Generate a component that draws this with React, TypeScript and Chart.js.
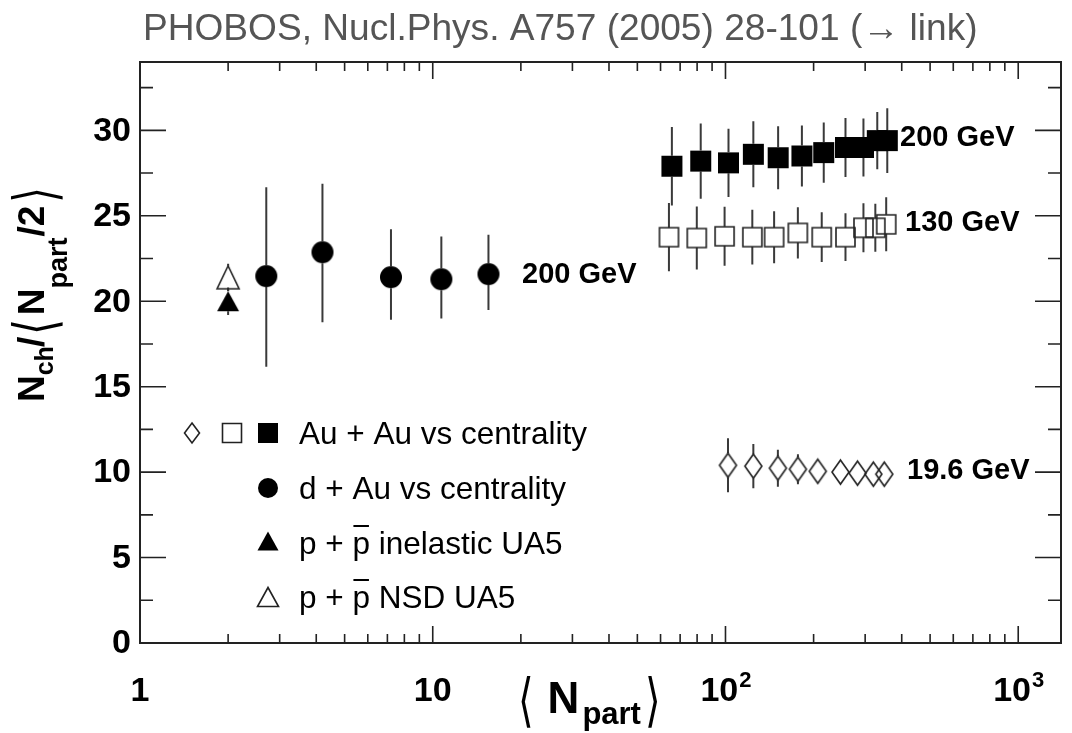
import React, { useEffect, useRef } from "react";
import { Chart, registerables } from "chart.js";
Chart.register(...registerables);

// ---------- data ----------
const auau200Npart = [65.6, 82.3, 102.4, 124.5, 151.3, 182.4, 216.6, 257, 296, 330, 357];
const auau200Val = [27.9, 28.2, 28.1, 28.6, 28.4, 28.5, 28.7, 29.0, 29.0, 29.4, 29.4];
const auau200Err = [2.3, 2.2, 2.0, 1.93, 1.84, 1.79, 1.76, 1.73, 1.7, 1.67, 1.9];

const auau130Npart = [64.1, 79.8, 99.3, 123.5, 146.6, 176.7, 213.2, 257, 296, 325, 354];
const auau130Val = [23.75, 23.7, 23.8, 23.75, 23.75, 24.0, 23.75, 23.75, 24.3, 24.3, 24.5];
const auau130Err = [2.0, 1.85, 1.73, 1.6, 1.52, 1.5, 1.46, 1.4, 1.43, 1.4, 1.58];

const auau19Npart = [102, 124.5, 151, 176.8, 206.7, 247, 282.5, 320, 348.7];
const auau19Val = [10.4, 10.35, 10.23, 10.17, 10.05, 10.0, 9.94, 9.88, 9.88];
const auau19Err = [1.58, 1.29, 1.08, 0.88, 0.7, 0.65, 0.6, 0.6, 0.6];

const dauNpart = [2.7, 4.2, 7.2, 10.7, 15.5];
const dauVal = [21.47, 22.87, 21.41, 21.29, 21.59];
const dauErrUp = [5.2, 4.0, 2.8, 2.5, 2.3];
const dauErrDown = [5.3, 4.1, 2.5, 2.3, 2.1];

const ua5InelNpart = [2];
const ua5InelVal = [20.0];
const ua5InelErr = [0.8];

const ua5NsdNpart = [2];
const ua5NsdVal = [21.4];
const ua5NsdErr = [0.8];

const yTickValues = [0, 5, 10, 15, 20, 25, 30];
const xTickValues = [1, 10, 100, 1000];
const xTickBase = ["1", "10", "10", "10"];
const xTickExp = ["", "", "2", "3"];

const titleText = "PHOBOS, Nucl.Phys. A757 (2005) 28-101 (\u2192 link)";
const legendRows = [
  "Au + Au vs centrality",
  "d + Au vs centrality",
  "inelastic UA5",
  "NSD UA5",
];
const energyLabels = ["200 GeV", "130 GeV", "19.6 GeV", "200 GeV"];

// ---------- helpers ----------
const SANS = '"Liberation Sans", Arial, Helvetica, sans-serif';
const BR = '"DejaVu Sans", sans-serif';
const INK = "#222";

type Kind = "square" | "circle" | "diamond" | "triangle";

function shapePath(g: CanvasRenderingContext2D, kind: Kind, cx: number, cy: number, w: number, h: number) {
  g.beginPath();
  if (kind === "square") g.rect(cx - w / 2, cy - h / 2, w, h);
  else if (kind === "circle") g.ellipse(cx, cy, w / 2, h / 2, 0, 0, Math.PI * 2);
  else if (kind === "diamond") {
    g.moveTo(cx, cy - h / 2);
    g.lineTo(cx + w / 2, cy);
    g.lineTo(cx, cy + h / 2);
    g.lineTo(cx - w / 2, cy);
    g.closePath();
  } else {
    g.moveTo(cx, cy - h / 2);
    g.lineTo(cx + w / 2, cy + h / 2);
    g.lineTo(cx - w / 2, cy + h / 2);
    g.closePath();
  }
}

function drawShape(g: CanvasRenderingContext2D, kind: Kind, cx: number, cy: number, w: number, h: number, filled: boolean) {
  shapePath(g, kind, cx, cy, w, h);
  if (filled) {
    g.fillStyle = "#000";
    g.fill();
  } else {
    g.strokeStyle = INK;
    g.lineWidth = 1.6;
    g.stroke();
  }
}

function makeMarker(kind: Kind, w: number, h: number, filled: boolean) {
  const c = document.createElement("canvas");
  const pad = 2;
  c.width = w + pad * 2;
  c.height = h + pad * 2;
  const g = c.getContext("2d")!;
  drawShape(g, kind, c.width / 2, c.height / 2, w, h, filled);
  return c;
}

type Run = { t: string; font: string; size: number; dy?: number; dx?: number; sy?: number };
function drawRuns(ctx: CanvasRenderingContext2D, runs: Run[], x0: number, y0: number) {
  let x = x0;
  ctx.textAlign = "left";
  ctx.textBaseline = "alphabetic";
  for (const r of runs) {
    ctx.font = r.font;
    x += r.dx || 0;
    const by = y0 + (r.dy || 0);
    if (r.sy && r.sy !== 1) {
      const c = 0.3 * r.size;
      ctx.save();
      ctx.translate(x, by - c);
      ctx.scale(1, r.sy);
      ctx.fillText(r.t, 0, c);
      ctx.restore();
    } else {
      ctx.fillText(r.t, x, by);
    }
    x += ctx.measureText(r.t).width;
  }
  return x;
}

export default function App() {
  const ref = useRef<HTMLCanvasElement>(null);

  useEffect(() => {
    const mk = {
      fsq: makeMarker("square", 21, 21, true),
      osq: makeMarker("square", 19, 19, false),
      dia: makeMarker("diamond", 17, 24, false),
      cir: makeMarker("circle", 22, 22, true),
      ftri: makeMarker("triangle", 22, 20, true),
      otri: makeMarker("triangle", 22, 23, false),
    };

    const series = [
      { label: "Au+Au 200 GeV", n: auau200Npart, v: auau200Val, up: auau200Err, dn: auau200Err, img: mk.fsq, half: 10.5 },
      { label: "Au+Au 130 GeV", n: auau130Npart, v: auau130Val, up: auau130Err, dn: auau130Err, img: mk.osq, half: 9.5 },
      { label: "Au+Au 19.6 GeV", n: auau19Npart, v: auau19Val, up: auau19Err, dn: auau19Err, img: mk.dia, half: 12 },
      { label: "d+Au 200 GeV", n: dauNpart, v: dauVal, up: dauErrUp, dn: dauErrDown, img: mk.cir, half: 11 },
      { label: "p+pbar inelastic UA5", n: ua5InelNpart, v: ua5InelVal, up: ua5InelErr, dn: ua5InelErr, img: mk.ftri, half: 10 },
      { label: "p+pbar NSD UA5", n: ua5NsdNpart, v: ua5NsdVal, up: ua5NsdErr, dn: ua5NsdErr, img: mk.otri, half: 11.5 },
    ];

    const errorBars = {
      id: "errorBars",
      beforeDatasetsDraw(chart: any) {
        const ctx = chart.ctx as CanvasRenderingContext2D;
        const xs = chart.scales.x;
        const ys = chart.scales.y;
        ctx.save();
        ctx.strokeStyle = "#3a3a3a";
        ctx.lineWidth = 2;
        for (const s of series) {
          s.n.forEach((n, i) => {
            const px = xs.getPixelForValue(n);
            const pc = ys.getPixelForValue(s.v[i]);
            const pt = ys.getPixelForValue(s.v[i] + s.up[i]);
            const pb = ys.getPixelForValue(s.v[i] - s.dn[i]);
            ctx.beginPath();
            if (pt < pc - s.half) {
              ctx.moveTo(px, pt);
              ctx.lineTo(px, pc - s.half);
            }
            if (pb > pc + s.half) {
              ctx.moveTo(px, pc + s.half);
              ctx.lineTo(px, pb);
            }
            ctx.stroke();
          });
        }
        ctx.restore();
      },
    };

    const frame = {
      id: "frameAndText",
      afterDraw(chart: any) {
        const ctx = chart.ctx as CanvasRenderingContext2D;
        const ca = chart.chartArea;
        const xs = chart.scales.x;
        const ys = chart.scales.y;
        ctx.save();

        // ticks
        ctx.strokeStyle = INK;
        ctx.lineWidth = 1.6;
        ctx.beginPath();
        for (const d of [1, 10, 100, 1000]) {
          for (let k = 1; k <= 9; k++) {
            const v = d * k;
            if (v < xs.min || v > xs.max) continue;
            const px = xs.getPixelForValue(v);
            const len = k === 1 ? 17 : 9;
            ctx.moveTo(px, ca.bottom);
            ctx.lineTo(px, ca.bottom - len);
            ctx.moveTo(px, ca.top);
            ctx.lineTo(px, ca.top + len);
          }
        }
        for (let v = 0; v <= ys.max + 1e-9; v += 2.5) {
          const py = ys.getPixelForValue(v);
          const len = Math.abs(v % 5) < 1e-9 ? 26 : 13;
          ctx.moveTo(ca.left, py);
          ctx.lineTo(ca.left + len, py);
          ctx.moveTo(ca.right, py);
          ctx.lineTo(ca.right - len, py);
        }
        ctx.stroke();

        // frame
        ctx.lineWidth = 2;
        ctx.strokeRect(ca.left, ca.top, ca.right - ca.left, ca.bottom - ca.top);

        ctx.fillStyle = "#000";
        // y tick labels
        ctx.font = `bold 34px ${SANS}`;
        ctx.textAlign = "right";
        ctx.textBaseline = "middle";
        for (const v of yTickValues) {
          ctx.fillText(String(v), ca.left - 9, ys.getPixelForValue(v) + 1);
        }
        // x tick labels
        ctx.textBaseline = "alphabetic";
        xTickValues.forEach((v, i) => {
          const px = xs.getPixelForValue(v);
          ctx.font = `bold 34px ${SANS}`;
          const wb = ctx.measureText(xTickBase[i]).width;
          ctx.font = `bold 22px ${SANS}`;
          const we = xTickExp[i] ? ctx.measureText(xTickExp[i]).width : 0;
          const x0 = px - (wb + we) / 2;
          ctx.textAlign = "left";
          ctx.font = `bold 34px ${SANS}`;
          ctx.fillText(xTickBase[i], x0, 701);
          if (xTickExp[i]) {
            ctx.font = `bold 22px ${SANS}`;
            ctx.fillText(xTickExp[i], x0 + wb + 1, 687);
          }
        });

        // x axis title  < N_part >
        drawRuns(
          ctx,
          [
            { t: "\u27E8", font: `40px ${BR}`, size: 40, dy: 2, sy: 1.45 },
            { t: "N", font: `bold 44px ${SANS}`, size: 44, dx: 14 },
            { t: "part", font: `bold 31px ${SANS}`, size: 31, dy: 11, dx: 3 },
            { t: "\u27E9", font: `40px ${BR}`, size: 40, dy: 2, dx: 4, sy: 1.45 },
          ],
          518,
          713
        );

        // y axis title  N_ch / < N_part / 2 >
        ctx.save();
        ctx.translate(44, 402);
        ctx.rotate(-Math.PI / 2);
        drawRuns(
          ctx,
          [
            { t: "N", font: `bold 37px ${SANS}`, size: 37 },
            { t: "ch", font: `bold 25px ${SANS}`, size: 25, dy: 9 },
            { t: "/", font: `bold 37px ${SANS}`, size: 37, dx: -1 },
            { t: "\u27E8", font: `40px ${BR}`, size: 40, dy: 6, dx: 2, sy: 1.45 },
            { t: "N", font: `bold 37px ${SANS}`, size: 37, dx: 4 },
            { t: "part", font: `bold 27px ${SANS}`, size: 27, dy: 23 },
            { t: "/2", font: `bold 37px ${SANS}`, size: 37, dx: 1 },
            { t: "\u27E9", font: `40px ${BR}`, size: 40, dy: 6, dx: 3, sy: 1.45 },
          ],
          0,
          0
        );
        ctx.restore();

        // energy labels
        ctx.font = `bold 29px ${SANS}`;
        ctx.textAlign = "left";
        ctx.textBaseline = "middle";
        ctx.fillText(energyLabels[0], 900, 138);
        ctx.fillText(energyLabels[1], 905, 223);
        ctx.fillText(energyLabels[2], 907, 471);
        ctx.fillText(energyLabels[3], 522, 275);

        // legend
        drawShape(ctx, "diamond", 192, 433, 15, 20, false);
        drawShape(ctx, "square", 232, 433, 19, 19, false);
        drawShape(ctx, "square", 268, 433, 20, 20, true);
        drawShape(ctx, "circle", 268, 488, 20, 20, true);
        drawShape(ctx, "triangle", 268, 541, 21, 19, true);
        drawShape(ctx, "triangle", 268, 597, 21, 19, false);
        ctx.fillStyle = "#000";
        ctx.textBaseline = "alphabetic";
        const LF = `31.5px ${SANS}`;
        ctx.font = LF;
        ctx.fillText(legendRows[0], 299, 444);
        ctx.fillText(legendRows[1], 299, 499);
        const pp = (y: number, rest: string) => {
          ctx.font = LF;
          let x = 299;
          ctx.fillText("p + ", x, y);
          x += ctx.measureText("p + ").width;
          const wp = ctx.measureText("p").width;
          ctx.fillText("p", x, y);
          ctx.fillRect(x + 1, y - 29, wp - 2, 2);
          x += wp + ctx.measureText(" ").width;
          ctx.fillText(rest, x, y);
        };
        pp(554, legendRows[2]);
        pp(608, legendRows[3]);

        // top title
        ctx.fillStyle = "#555";
        ctx.font = `36px ${SANS}`;
        const tw = ctx.measureText(titleText).width;
        const fs = (36 * 835) / tw;
        ctx.font = `${fs.toFixed(1)}px ${SANS}`;
        ctx.textBaseline = "alphabetic";
        ctx.fillText(titleText, 143, 40);

        ctx.restore();
      },
    };

    const chart = new Chart(ref.current!, {
      type: "scatter",
      data: {
        datasets: series.map((s) => ({
          label: s.label,
          data: s.n.map((n, i) => ({ x: n, y: s.v[i] })),
          pointStyle: s.img as any,
          pointRadius: 10,
          showLine: false,
        })),
      },
      options: {
        responsive: false,
        animation: false,
        events: [],
        layout: { padding: { left: 140, right: 5, top: 62, bottom: 90 } },
        plugins: {
          legend: { display: false },
          tooltip: { enabled: false },
          title: { display: false },
        },
        scales: {
          x: { type: "logarithmic", min: 1, max: 1400, display: false },
          y: { type: "linear", min: 0, max: 34, display: false },
        },
      },
      plugins: [errorBars, frame],
    });
    return () => chart.destroy();
  }, []);

  return (
    <div style={{ position: "absolute", left: 0, top: 0, width: 1072, height: 733, background: "#fff" }}>
      <canvas ref={ref} width={1072} height={733} style={{ display: "block", width: 1072, height: 733 }} />
    </div>
  );
}
